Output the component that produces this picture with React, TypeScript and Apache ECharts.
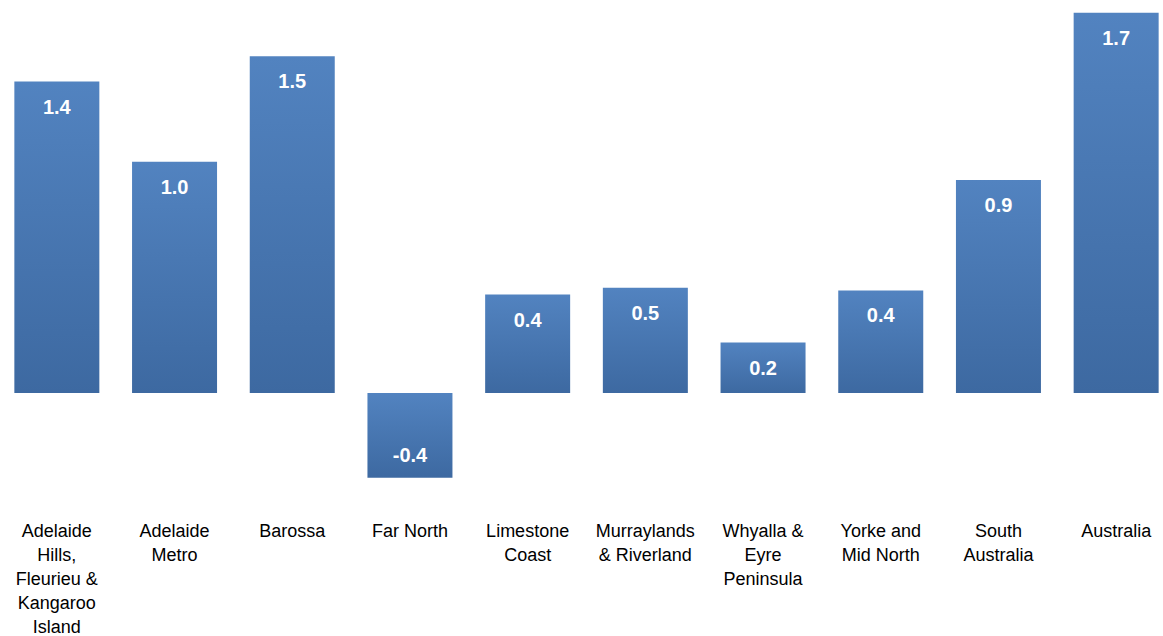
import React, { useEffect, useRef } from "react";
import * as echarts from "echarts";

const categories = [
  "Adelaide\nHills,\nFleurieu &\nKangaroo\nIsland",
  "Adelaide\nMetro",
  "Barossa",
  "Far North",
  "Limestone\nCoast",
  "Murraylands\n& Riverland",
  "Whyalla &\nEyre\nPeninsula",
  "Yorke and\nMid North",
  "South\nAustralia",
  "Australia",
];

const values = [1.36, 1.01, 1.47, -0.37, 0.43, 0.46, 0.22, 0.448, 0.93, 1.66];

const yMin = -0.5;
const yMax = 1.7;

export default function App() {
  const ref = useRef<HTMLDivElement>(null);

  useEffect(() => {
    if (!ref.current) return;
    const chart = echarts.init(ref.current, null, { renderer: "svg" });
    const grad = new echarts.graphic.LinearGradient(0, 0, 0, 1, [
      { offset: 0, color: "#5283C0" },
      { offset: 1, color: "#3D69A1" },
    ]);
    chart.setOption({
      animation: false,
      backgroundColor: "#ffffff",
      grid: {
        left: 0,
        right: 0,
        top: 3.7,
        height: 503.8,
        containLabel: false,
        outerBoundsMode: "none",
      },
      xAxis: {
        type: "category",
        data: categories,
        axisLine: { show: false, onZero: false },
        axisTick: { show: false },
        axisLabel: {
          interval: 0,
          margin: 11,
          color: "#000000",
          fontFamily: "Liberation Sans",
          fontSize: 18,
          lineHeight: 24,
          align: "center",
        },
      },
      yAxis: {
        type: "value",
        min: yMin,
        max: yMax,
        show: false,
        splitLine: { show: false },
      },
      series: [
        {
          type: "bar",
          barWidth: 85,
          data: values.map((v) => ({
            value: v,
            itemStyle: { color: grad },
            label: {
              show: true,
              position: v < 0 ? "insideBottom" : "insideTop",
              distance: v < 0 ? 13 : 15,
              formatter: (p: any) => Number(p.value).toFixed(1),
              color: "#ffffff",
              fontFamily: "Liberation Sans",
              fontWeight: "bold",
              fontSize: 20,
              lineHeight: 20,
            },
          })),
        },
      ],
    });
    return () => chart.dispose();
  }, []);

  return (
    <div
      ref={ref}
      style={{
        position: "fixed",
        left: -2.3,
        top: 0,
        width: 1176.7,
        height: 636,
        background: "#ffffff",
      }}
    />
  );
}
